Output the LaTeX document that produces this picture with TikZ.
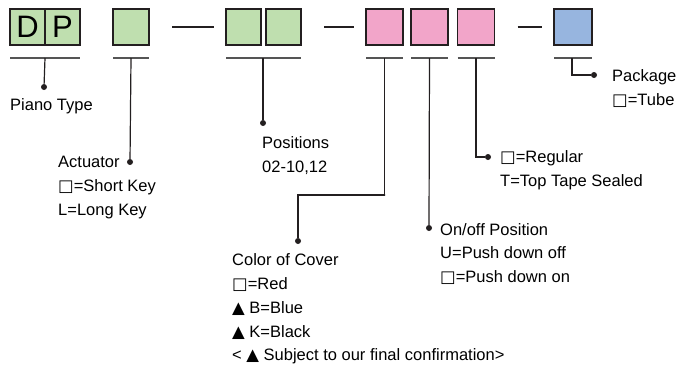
\documentclass[tikz,border=0pt]{standalone}
\usepackage{fontspec}
\setmainfont{Liberation Sans}
\newfontfamily\symfont{DejaVu Sans}
\newcommand\boxsym{{\symfont □}}
\newcommand\trisym{{\symfont ▲}}
\usetikzlibrary{positioning}
\definecolor{PGreen}{HTML}{BFDFAF}
\definecolor{PPink}{HTML}{F2A5C9}
\definecolor{PBlue}{HTML}{97B5DF}
\definecolor{PEdge}{HTML}{231F20}
\definecolor{PGrey}{HTML}{555555}

\begin{document}
\begin{tikzpicture}[x=1pt,y=-1pt,
  cell/.style={draw=PEdge,line width=1.2pt,minimum width=35pt,minimum height=36pt,
    inner sep=0pt,outer sep=0pt,font=\fontsize{31}{31}\selectfont},
  bar/.style={draw=PGrey,line width=1.5pt},
  lead/.style={draw=PEdge,line width=1.2pt},
  gapline/.style={draw=PEdge,line width=1.6pt},
  dot/.style={circle,fill=PEdge,inner sep=0pt,minimum size=6pt},
  lbl/.style={align=left,inner sep=0pt,anchor=west,font=\fontsize{16.5}{23.8}\selectfont}
]
  \useasboundingbox (0,0) rectangle (685,370);
  % code boxes
  \node[cell,fill=PGreen] (cellD) at (27.5,27) {D};
  \node[cell,fill=PGreen] (cellP) at (62.5,27) {P};
  \node[cell,fill=PGreen,minimum width=36pt] (act) at (131,27) {};
  \node[cell,fill=PGreen] (posA) at (243.5,27) {};
  \node[cell,fill=PGreen] (posB) at (283.5,27) {};
  \node[cell,fill=PPink,minimum width=37pt] (cover) at (384.5,27) {};
  \node[cell,fill=PPink,minimum width=37pt] (onoff) at (429.5,27) {};
  \node[cell,fill=PPink,minimum width=37pt] (tape) at (476,27) {};
  \node[cell,fill=PBlue,minimum width=38pt] (pack) at (573,27) {};
  % dashes between groups
  \foreach \x/\y in {act/posA,posB/cover,tape/pack}
    {\draw[gapline] ([xshift=23pt]\x.east) -- ([xshift=-12pt]\y.west);}
  % underlines
  \foreach \x/\y in {cellD/cellP,act/act,posA/posB,cover/cover,onoff/onoff,tape/tape,pack/pack}
    {\draw[bar] ([yshift=-13pt]\x.south west) -- ([yshift=-13pt]\y.south east);}
  \coordinate (uType) at ([yshift=-13pt]cellD.south east);
  \coordinate (uAct) at ([yshift=-13pt]act.south);
  \coordinate (uPos) at ([yshift=-13pt,xshift=2pt]posA.south east);
  \coordinate (uCov) at ([yshift=-13pt]cover.south);
  \coordinate (uOn) at ([yshift=-13pt]onoff.south);
  \coordinate (uTape) at ([yshift=-13pt]tape.south);
  \coordinate (uPack) at ([yshift=-13pt,xshift=-1pt]pack.south);
  % dots
  \node[dot] (dType) at (44,87) {};
  \node[dot] (dAct) at (130,162) {};
  \node[dot] (dPos) at (263,123) {};
  \node[dot] (dCov) at (298,241) {};
  \node[dot] (dOn) at (429,228) {};
  \node[dot] (dTape) at (488,157) {};
  \node[dot] (dPack) at (594,75) {};
  \coordinate (bend) at (385,195);
  % labels
  \node[lbl] (tType) at (10,106) {Piano Type};
  \node[lbl] (tAct) at (58,187.5) {Actuator\\\boxsym=Short Key\\L=Long Key};
  \node[lbl] (tPos) at (262,155.5) {Positions\\02-10,12};
  \node[lbl] (tCov) at (232,309) {Color of Cover\\\boxsym=Red\\\trisym\ B=Blue\\\trisym\ K=Black\\< \trisym\ Subject to our final confirmation>};
  \node[lbl] (tOn) at (440,254) {On/off Position\\U=Push down off\\\boxsym=Push down on};
  \node[lbl] (tTape) at (500,170) {\boxsym=Regular\\T=Top Tape Sealed};
  \node[lbl] (tPack) at (612,88.5) {Package\\\boxsym=Tube};
  % leaders
  \draw[lead] (uType) -- (dType);
  \draw[lead] (uAct) -- (dAct);
  \draw[lead] (uPos) -- (dPos);
  \draw[lead] (uCov) |- (bend) -| (dCov);
  \draw[lead] (uOn) -- (dOn);
  \draw[lead] (uTape) |- (dTape);
  \draw[lead] (uPack) |- (dPack);
\end{tikzpicture}
\end{document}
